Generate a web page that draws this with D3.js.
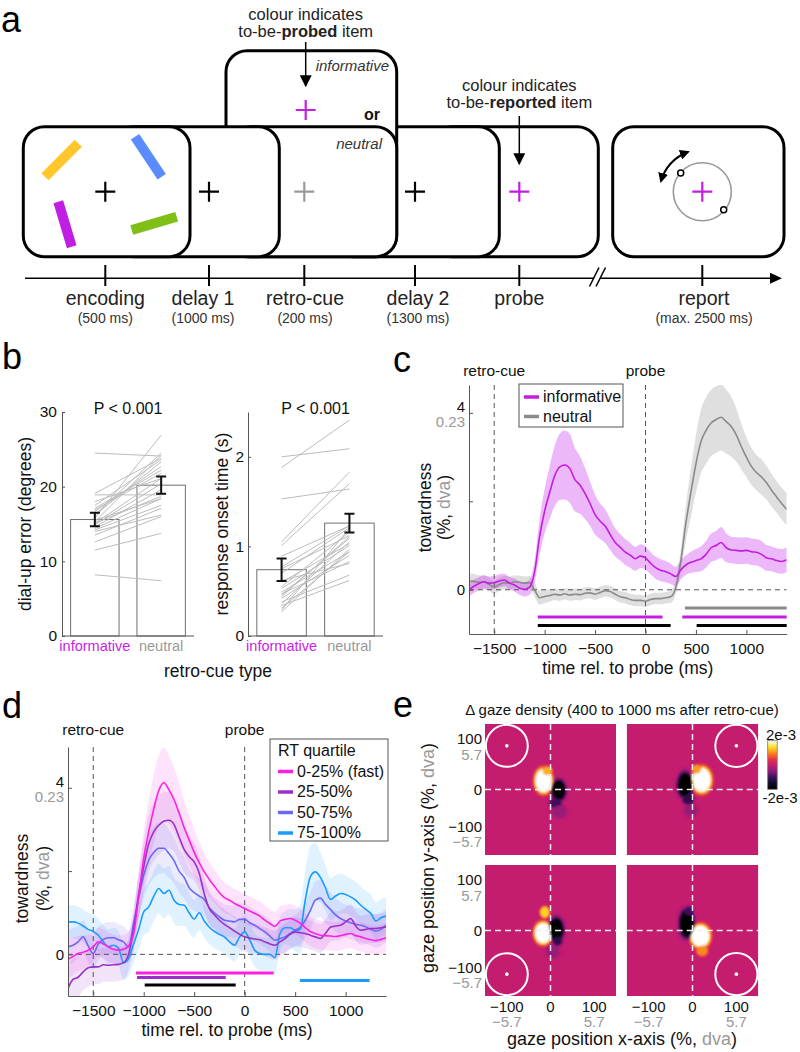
<!DOCTYPE html>
<html><head><meta charset="utf-8">
<script src="https://cdn.jsdelivr.net/npm/d3@7"></script>
<style>body{margin:0;background:#fff}</style>
</head><body>
<svg id="fig" width="800" height="1052" xmlns="http://www.w3.org/2000/svg"></svg>
<script>
// ======================= DATA =======================
// panel a
const trialStages = ["encoding","delay 1","retro-cue","delay 2","probe","report"];
const trialDurations = ["(500 ms)","(1000 ms)","(200 ms)","(1300 ms)","","(max. 2500 ms)"];

// panel b
const cueTypes = ["informative","neutral"];
const errorMean = [15.6, 20.2];
const errorSem = [0.9, 1.15];
const errorInformative = [24.5,8.2,11.5,12.6,13.5,14.4,15.1,15.3,15.8,16.2,16.7,17.1,17.5,18.0,18.9,19.1,14.9,14.6,14.0,16.2,16.9,15.5,14.2,15.1];
const errorNeutral     = [24.1,7.4,13.75,16.0,17.1,18.4,18.7,24.2,26.9,23.3,22.7,22.2,23.6,21.1,18.9,23.8,20.4,19.6,16.2,24.5,21.8,18.4,17.5,21.1];
const errorTicks = [0,10,20,30];
const rtMean = [0.74, 1.26];
const rtSem = [0.125, 0.105];
const rtInformative = [2.0,1.88,1.53,1.05,1.01,0.89,0.75,0.70,0.60,0.55,0.49,0.46,0.42,0.38,0.34,0.29,0.27,0.36,0.62,0.44,0.47,0.77,0.53,0.31];
const rtNeutral     = [2.09,2.41,1.64,1.83,1.70,1.23,1.12,1.21,1.03,1.16,0.94,1.09,0.90,0.68,0.62,1.20,0.97,1.05,0.81,1.11,0.83,1.23,1.01,0.94];
const rtTicks = [0,1,2];
const pText = "P < 0.001";

// panels c & d: time grid (ms rel. to probe, 50-ms steps)
const timeMs = d3.range(-1750, 1401, 50);
const timeTicks = [-1500,-1000,-500,0,500,1000];
const towardTicks = [0,2,4];
const towardTickLabels = [[0,"0"],[4,"4"]];
const towardDvaLabels = [[4,"0.23"]];
const eventTimes = [[-1500,"retro-cue"],[0,"probe"]];

const towardInformative = [0.0,0.08,0.14,0.18,0.15,0.16,0.2,0.22,0.15,0.11,0.04,0.01,0.06,
 0.4,1.2,1.78,2.2,2.58,2.78,2.82,2.74,2.49,2.37,2.18,
 1.95,1.7,1.55,1.44,1.25,1.07,0.96,0.85,0.78,0.7,0.76,
 0.72,0.6,0.5,0.44,0.41,0.36,0.3,0.45,0.56,0.62,0.66,
 0.7,0.8,0.95,1.0,1.07,0.95,0.9,0.89,0.88,0.89,0.86,
 0.85,0.8,0.72,0.7,0.66,0.64,0.68];
const towardInformativeSem = [0.15,0.15,0.15,0.15,0.15,0.15,0.15,0.14,0.14,0.15,0.15,0.16,0.17,
 0.25,0.4,0.5,0.6,0.68,0.75,0.78,0.78,0.72,0.65,0.58,
 0.5,0.45,0.4,0.38,0.35,0.32,0.3,0.29,0.28,0.27,0.27,
 0.26,0.25,0.25,0.25,0.24,0.23,0.22,0.22,0.22,0.24,0.26,
 0.28,0.3,0.32,0.33,0.35,0.33,0.3,0.3,0.3,0.3,0.3,
 0.3,0.3,0.29,0.28,0.28,0.28,0.28];
const towardNeutral = [0.2,0.19,0.17,0.17,0.12,0.06,0.12,0.16,0.15,0.18,0.17,0.15,0.16,
 0.0,-0.18,-0.15,-0.13,-0.1,-0.12,-0.09,-0.12,-0.1,-0.11,-0.08,
 -0.07,-0.1,-0.06,-0.02,-0.04,-0.1,-0.16,-0.18,-0.22,-0.24,-0.24,
 -0.26,-0.22,-0.2,-0.2,-0.18,-0.16,0.05,0.65,1.5,2.2,2.85,
 3.35,3.6,3.77,3.85,3.9,3.8,3.69,3.5,3.24,3.0,2.79,
 2.65,2.55,2.42,2.25,2.1,1.95,1.82];
const towardNeutralSem = [0.17,0.17,0.16,0.15,0.15,0.15,0.15,0.15,0.15,0.15,0.15,0.15,0.15,
 0.15,0.16,0.15,0.14,0.13,0.13,0.13,0.13,0.13,0.13,0.13,
 0.13,0.13,0.13,0.13,0.13,0.13,0.13,0.13,0.13,0.13,0.13,
 0.13,0.13,0.13,0.13,0.13,0.14,0.15,0.25,0.4,0.55,0.65,
 0.72,0.75,0.75,0.75,0.75,0.72,0.68,0.6,0.52,0.45,0.42,
 0.4,0.4,0.38,0.37,0.36,0.36,0.36];
// significant clusters (ms)
const sigNeutralC = [[391,1400]];
const sigInformativeC = [[-1068,169],[365,1400]];
const sigDifferenceC = [[-1068,249],[507,1400]];

// panel d: RT quartiles
const quartiles = ["0-25% (fast)","25-50%","50-75%","75-100%"];
const towardQ1 = [-0.12,-0.05,0.02,0.05,0.1,0.18,0.3,0.25,0.18,0.12,0.1,0.12,0.2,
 0.5,1.38,2.3,2.95,3.5,3.94,4.12,3.95,3.72,3.4,3.05,
 2.75,2.45,2.2,1.98,1.8,1.64,1.48,1.36,1.3,1.22,1.16,
 1.1,1.04,0.98,0.92,0.82,0.74,0.67,0.8,0.84,0.86,0.82,
 0.75,0.64,0.55,0.5,0.46,0.45,0.44,0.43,0.45,0.48,0.5,
 0.45,0.42,0.38,0.35,0.33,0.36,0.4];
const towardQ2 = [-0.82,-0.6,-0.55,-0.42,-0.32,-0.3,-0.3,-0.25,-0.26,-0.25,-0.24,-0.2,0.0,
 0.6,1.45,2.1,2.66,2.95,3.1,3.2,3.22,3.12,2.82,2.52,
 2.35,2.22,1.95,1.45,1.1,0.95,0.82,0.72,0.64,0.56,0.48,
 0.42,0.39,0.37,0.35,0.3,0.25,0.22,0.3,0.38,0.48,0.54,
 0.52,0.5,0.46,0.42,0.38,0.5,0.65,0.68,0.7,0.78,0.86,
 0.68,0.58,0.6,0.62,0.62,0.64,0.66];
const towardQ3 = [0.18,0.22,0.3,0.42,0.2,0.02,0.25,0.36,0.4,0.4,0.35,0.3,0.18,
 0.75,1.35,1.9,2.26,2.45,2.55,2.55,2.42,2.25,2.0,1.85,
 1.6,1.48,1.4,1.32,1.12,1.0,0.9,0.82,0.8,0.78,0.84,
 0.84,0.76,0.7,0.62,0.54,0.44,0.34,0.38,0.42,0.5,0.58,
 0.65,0.82,1.05,1.3,1.35,1.2,1.08,0.95,0.86,0.8,0.76,
 0.72,0.7,0.66,0.6,0.56,0.6,0.7];
const towardQ4 = [0.78,0.78,0.75,0.68,0.6,0.55,0.46,0.3,0.18,0.22,0.15,-0.2,-0.1,
 0.25,0.6,1.02,1.14,1.4,1.58,1.46,1.54,1.3,1.2,1.18,
 1.0,0.85,1.0,0.8,0.65,0.55,0.48,0.42,0.3,0.22,0.42,
 0.54,0.35,0.1,0.02,0.0,0.0,-0.08,0.5,0.64,0.64,0.58,
 0.6,1.3,1.86,1.98,1.85,1.6,1.32,1.4,1.46,1.44,1.38,
 1.3,1.18,1.08,0.98,0.8,0.88,0.92];
const semQ1 = [0.45,0.45,0.42,0.4,0.38,0.36,0.35,0.35,0.35,0.35,0.35,0.35,0.35,
 0.4,0.55,0.65,0.75,0.82,0.85,0.85,0.82,0.78,0.72,0.65,
 0.6,0.55,0.5,0.45,0.42,0.4,0.38,0.36,0.35,0.35,0.35,
 0.35,0.35,0.35,0.35,0.35,0.35,0.35,0.35,0.35,0.35,0.35,
 0.35,0.35,0.35,0.35,0.35,0.35,0.35,0.35,0.35,0.35,0.35,
 0.35,0.35,0.35,0.35,0.35,0.35,0.35];
const semQ2 = [0.5,0.5,0.48,0.45,0.45,0.42,0.42,0.4,0.4,0.4,0.4,0.4,0.4,
 0.45,0.55,0.62,0.68,0.7,0.7,0.7,0.68,0.65,0.6,0.55,
 0.5,0.45,0.42,0.4,0.38,0.36,0.35,0.35,0.35,0.35,0.35,
 0.35,0.35,0.35,0.35,0.35,0.35,0.35,0.35,0.35,0.35,0.35,
 0.35,0.35,0.35,0.35,0.35,0.35,0.35,0.35,0.35,0.35,0.35,
 0.35,0.35,0.35,0.35,0.35,0.35,0.35];
const semQ3 = [0.42,0.42,0.4,0.4,0.4,0.4,0.4,0.38,0.38,0.38,0.38,0.38,0.38,
 0.42,0.5,0.55,0.6,0.62,0.62,0.6,0.58,0.55,0.52,0.5,
 0.46,0.44,0.42,0.4,0.4,0.38,0.38,0.38,0.38,0.38,0.38,
 0.38,0.38,0.38,0.38,0.38,0.38,0.38,0.38,0.38,0.38,0.38,
 0.4,0.42,0.45,0.45,0.45,0.45,0.42,0.4,0.4,0.4,0.4,
 0.4,0.4,0.4,0.4,0.4,0.4,0.4];
const semQ4 = [0.4,0.4,0.4,0.4,0.4,0.4,0.4,0.4,0.42,0.42,0.42,0.42,0.42,
 0.45,0.5,0.55,0.6,0.6,0.6,0.6,0.58,0.55,0.52,0.5,
 0.48,0.45,0.42,0.4,0.4,0.4,0.4,0.4,0.4,0.4,0.4,
 0.4,0.4,0.4,0.4,0.4,0.4,0.4,0.4,0.4,0.45,0.5,
 0.6,0.7,0.75,0.7,0.6,0.55,0.5,0.5,0.48,0.45,0.45,
 0.45,0.45,0.45,0.45,0.45,0.45,0.45];
const sigQ1 = [[-1076,286]];
const sigQ2 = [[-1066,-188]];
const sigQ4 = [[546,1237]];
const sigQ1vsQ4 = [[-990,-89]];

// panel e: gaze density difference maps
const gazeCues = [[-100,100],[100,100],[-100,-100],[100,-100]];
const gazeTicks = [-100,0,100];
const gazeTickDva = [[-100,"\u22125.7"],[100,"5.7"]];
const densityLabels = ["2e-3","-2e-3"];
// [panel, x (%), y (%), x-radius (%), y-radius (%), relative density]
const gazeBlobs = [
 [0,-16,20,19,27,1],[0,-8,42,11,10,0.6],[0,19,-2,15,22,-1],[0,12,-32,13,12,-0.5],[0,20,-50,16,14,-0.2],
 [1,21,22,21,28,1],[1,10,46,10,10,0.55],[1,-17,10,16,27,-1],[1,-10,-22,12,12,-0.6],[1,-4,-48,14,14,-0.2],
 [2,-17,-6,19,24,1],[2,-13,42,10,12,0.7],[2,13,2,16,25,-1],[2,16,-24,10,10,-0.6],[2,6,-48,14,14,-0.2],
 [3,18,-13,21,25,1],[3,22,-46,12,12,0.5],[3,-13,16,16,30,-1],[3,-8,44,10,10,-0.5]
];

// ======================= DRAWING =======================
const FONT = "'Liberation Sans', Arial, sans-serif";
const NUM = d3.format("");
const svg = d3.select("#fig").attr("font-family", FONT);
const defs = svg.append("defs");
defs.append("marker").attr("id","arr").attr("viewBox","0 0 10 10").attr("refX",9).attr("refY",5)
  .attr("markerWidth",12).attr("markerHeight",12).attr("markerUnits","userSpaceOnUse").attr("orient","auto-start-reverse")
  .append("path").attr("d","M0,0 L10,5 L0,10 Z").attr("fill","#000");
defs.append("marker").attr("id","arrSmall").attr("viewBox","0 0 10 10").attr("refX",8).attr("refY",5)
  .attr("markerWidth",10).attr("markerHeight",10).attr("markerUnits","userSpaceOnUse").attr("orient","auto-start-reverse")
  .append("path").attr("d","M0,0 L10,5 L0,10 Z").attr("fill","#000");

function panelLetter(t,x,y){ svg.append("text").attr("x",x).attr("y",y).attr("font-size",36).attr("fill","#000").text(t); }
panelLetter("a",1,32); panelLetter("b",2,369); panelLetter("c",393,372); panelLetter("d",2,718); panelLetter("e",393,717);

// ---------------- panel a ----------------
const A = svg.append("g");
const MAG = "#c41fe0";
function plus(cx, cy, color){
  A.append("path").attr("d",`M${cx-10},${cy}H${cx+10}M${cx},${cy-10}V${cy+10}`).attr("stroke",color).attr("stroke-width",2.2).attr("fill","none");
}
function screen(x,y,w,h){
  A.append("rect").attr("x",x).attr("y",y).attr("width",w).attr("height",h).attr("rx",21)
   .attr("fill","#fff").attr("stroke","#000").attr("stroke-width",3);
}
const boxY = 126.7, boxH = 130, boxW = 166.7;
screen(612.7, boxY, 171.3, boxH);   // report
screen(431.6, boxY, boxW, boxH);    // probe
screen(332.6, boxY, boxW, boxH);    // delay 2
screen(226, 50.7, 170.7, 206);      // informative retro-cue
screen(230, boxY, boxW, boxH);      // neutral retro-cue
screen(112.6, boxY, boxW, boxH);    // delay 1
screen(23.3, boxY, boxW, boxH);     // encoding
const midY = 191.7;
[[45,176.7,78.3,143.3,"#ffc72c"],[135,136.7,161.7,176.7,"#5b8cff"],[58.3,201.7,71.7,246.7,"#c11ee3"],[131.7,230,176.7,216.7,"#7fbf18"]]
 .forEach(b=>A.append("line").attr("x1",b[0]).attr("y1",b[1]).attr("x2",b[2]).attr("y2",b[3]).attr("stroke",b[4]).attr("stroke-width",10));
plus(105.3,midY,"#000"); plus(209,midY,"#000"); plus(304.3,midY,"#999"); plus(415,midY,"#000"); plus(519.3,midY,MAG);
plus(305.7,110,MAG); plus(702.3,midY,MAG);
A.append("text").attr("x",389).attr("y",71).attr("text-anchor","end").attr("font-style","italic").attr("font-size",15).attr("fill","#333").text("informative");
A.append("text").attr("x",382).attr("y",149).attr("text-anchor","end").attr("font-style","italic").attr("font-size",15).attr("fill","#333").text("neutral");
A.append("text").attr("x",364).attr("y",120).attr("font-weight","bold").attr("font-size",16).attr("fill","#111").text("or");
function annot(cx, y1, word, ay0, ay1){
  A.append("text").attr("x",cx).attr("y",y1).attr("text-anchor","middle").attr("font-size",16.5).attr("fill","#222").text("colour indicates");
  const t = A.append("text").attr("x",cx).attr("y",y1+17).attr("text-anchor","middle").attr("font-size",16.5).attr("fill","#222");
  t.append("tspan").text("to-be-"); t.append("tspan").attr("font-weight","bold").text(word); t.append("tspan").text(" item");
  A.append("line").attr("x1",cx).attr("x2",cx).attr("y1",ay0).attr("y2",ay1).attr("stroke","#000").attr("stroke-width",1.5).attr("marker-end","url(#arr)");
}
annot(305.7, 20, "probed", 42, 86);
annot(519.3, 91, "reported", 116, 164);
A.append("circle").attr("cx",702.3).attr("cy",midY).attr("r",29).attr("fill","none").attr("stroke","#9a9a9a").attr("stroke-width",1.6);
[[680.7,173],[723.7,209.7]].forEach(p=>A.append("circle").attr("cx",p[0]).attr("cy",p[1]).attr("r",3).attr("fill","#fff").attr("stroke","#000").attr("stroke-width",1.5));
A.append("path").attr("d","M661,181 A43,43 0 0,1 688,152").attr("fill","none").attr("stroke","#000").attr("stroke-width",2)
  .attr("marker-start","url(#arrSmall)").attr("marker-end","url(#arrSmall)");
const tickX = [105.3,209,304.3,415,519.3,702.3];
const labelX = [105.3,203,305,418,519.3,704];
A.append("line").attr("x1",25).attr("x2",772).attr("y1",278.3).attr("y2",278.3).attr("stroke","#000").attr("stroke-width",1.5);
A.append("path").attr("d","M770,272.8 L782,278.3 L770,283.8 Z").attr("fill","#000");
A.append("path").attr("d","M590,287 L599,268 L605,268 L596,287 Z").attr("fill","#fff");
A.append("line").attr("x1",589.5).attr("y1",286.5).attr("x2",599).attr("y2",267.5).attr("stroke","#000").attr("stroke-width",1.5);
A.append("line").attr("x1",596).attr("y1",286.5).attr("x2",605.5).attr("y2",267.5).attr("stroke","#000").attr("stroke-width",1.5);
trialStages.forEach((s,i)=>{
  A.append("line").attr("x1",tickX[i]).attr("x2",tickX[i]).attr("y1",265).attr("y2",286).attr("stroke","#000").attr("stroke-width",2);
  A.append("text").attr("x",labelX[i]).attr("y",305).attr("text-anchor","middle").attr("font-size",19.5).attr("fill","#222").text(s);
  A.append("text").attr("x",labelX[i]).attr("y",323).attr("text-anchor","middle").attr("font-size",14).attr("fill","#333").text(trialDurations[i]);
});

// ---------------- panel b ----------------
const B_BOTTOM = 636, B_TOP = 412;
function styleAxis(g, fs){
  g.attr("font-family",FONT).attr("font-size",fs);
  g.select(".domain").attr("stroke","#555");
  g.selectAll(".tick line").attr("stroke","#555");
  g.selectAll(".tick text").attr("fill","#111");
}
function drawBars(p){
  const x = d3.scaleBand().domain(cueTypes).range([p.left,p.right]).paddingInner(0.27).paddingOuter(0.13);
  const y = d3.scaleLinear().domain([0,p.yMax]).range([B_BOTTOM,B_TOP]);
  const g = svg.append("g");
  const bw = x.bandwidth();
  g.selectAll("rect").data(cueTypes).join("rect")
   .attr("x",d=>x(d)).attr("y",(d,i)=>y(p.mean[i])).attr("width",bw).attr("height",(d,i)=>B_BOTTOM-y(p.mean[i]))
   .attr("fill","#fff").attr("stroke","#707070").attr("stroke-width",1);
  g.selectAll("line.subj").data(p.a).join("line").attr("class","subj")
   .attr("x1",x(cueTypes[0])+bw/2).attr("x2",x(cueTypes[1])+bw/2)
   .attr("y1",d=>y(d)).attr("y2",(d,i)=>y(p.b[i])).attr("stroke","#bcbcbc").attr("stroke-width",1);
  cueTypes.forEach((c,i)=>{
    const cx = x(c)+bw/2, lo = y(p.mean[i]-p.sem[i]), hi = y(p.mean[i]+p.sem[i]);
    g.append("path").attr("d",`M${cx},${lo}V${hi}M${cx-5},${lo}H${cx+5}M${cx-5},${hi}H${cx+5}`).attr("stroke","#111").attr("stroke-width",2).attr("fill","none");
    g.append("text").attr("x",cx).attr("y",651).attr("text-anchor","middle").attr("font-size",14.5)
     .attr("fill", i===0 ? "#c81ee6" : "#999").text(c);
  });
  const ay = g.append("g").attr("transform",`translate(${p.left},0)`)
   .call(d3.axisLeft(y).tickValues(p.ticks).tickFormat(NUM).tickSizeInner(-3).tickSizeOuter(0).tickPadding(p.pad));
  styleAxis(ay, 15.5);
  g.append("line").attr("x1",p.left).attr("x2",p.right).attr("y1",B_BOTTOM).attr("y2",B_BOTTOM).attr("stroke","#555");
  g.append("text").attr("x",(p.left+p.right)/2).attr("y",414).attr("text-anchor","middle").attr("font-size",16).attr("fill","#111").text(pText);
  g.append("text").attr("transform",`translate(${p.labelX},${(B_TOP+B_BOTTOM)/2}) rotate(-90)`).attr("text-anchor","middle")
   .attr("dominant-baseline","central").attr("font-size",17.5).attr("fill","#111").text(p.label);
}
drawBars({left:62,right:194,yMax:30,ticks:errorTicks,mean:errorMean,sem:errorSem,a:errorInformative,b:errorNeutral,pad:5,labelX:25,label:"dial-up error (degrees)"});
drawBars({left:248,right:383,yMax:2.5,ticks:rtTicks,mean:rtMean,sem:rtSem,a:rtInformative,b:rtNeutral,pad:4,labelX:222,label:"response onset time (s)"});
svg.append("text").attr("x",218).attr("y",677).attr("text-anchor","middle").attr("font-size",17.5).attr("fill","#111").text("retro-cue type");

// ---------------- panels c & d ----------------
function drawToward(p){
  const x = d3.scaleLinear().domain([-1750,1400]).range([p.left,p.right]);
  const y = d3.scaleLinear().domain([-1,p.yMax]).range([p.bottom,p.top]);
  const g = svg.append("g");
  defs.append("clipPath").attr("id",p.id).append("rect").attr("x",p.left).attr("y",p.top).attr("width",p.right-p.left).attr("height",p.bottom-p.top);
  const plot = g.append("g").attr("clip-path",`url(#${p.id})`);
  const pts = s => timeMs.map((t,i)=>({t, m:s.mean[i], e:s.sem[i]}));
  p.series.forEach(s=>{
    plot.append("path").datum(pts(s))
     .attr("d", d3.area().x(d=>x(d.t)).y0(d=>y(d.m-d.e)).y1(d=>y(d.m+d.e)).curve(d3.curveMonotoneX))
     .attr("fill", s.band).attr("fill-opacity", s.op);
  });
  plot.append("line").attr("x1",p.left).attr("x2",p.right).attr("y1",y(0)).attr("y2",y(0)).attr("stroke","#555").attr("stroke-dasharray","5,4").attr("stroke-width",1);
  eventTimes.forEach(([t,lab])=>{
    plot.append("line").attr("x1",x(t)).attr("x2",x(t)).attr("y1",p.top).attr("y2",p.bottom).attr("stroke","#555").attr("stroke-dasharray","5,4").attr("stroke-width",1);
    g.append("text").attr("x",x(t)).attr("y",p.top-p.evOff).attr("text-anchor","middle").attr("font-size",15.5).attr("fill","#111").text(lab);
  });
  p.series.forEach(s=>{
    plot.append("path").datum(pts(s)).attr("d", d3.line().x(d=>x(d.t)).y(d=>y(d.m)).curve(d3.curveMonotoneX))
     .attr("fill","none").attr("stroke",s.color).attr("stroke-width",1.6);
  });
  p.sig.forEach(r=> r.ranges.forEach(([a,b])=>{
    g.append("line").attr("x1",x(a)).attr("x2",x(Math.min(b,1400))).attr("y1",p.bottom-r.off).attr("y2",p.bottom-r.off)
     .attr("stroke",r.color).attr("stroke-width",r.w||2.8);
  }));
  const ax = g.append("g").attr("transform",`translate(0,${p.bottom})`)
    .call(d3.axisBottom(x).tickValues(timeTicks).tickFormat(NUM).tickSizeInner(-4).tickSizeOuter(0).tickPadding(9));
  styleAxis(ax, 15.5);
  const ay = g.append("g").attr("transform",`translate(${p.left},0)`)
    .call(d3.axisLeft(y).tickValues(towardTicks).tickFormat(()=>"").tickSizeInner(-4).tickSizeOuter(0));
  styleAxis(ay, 15);
  towardTickLabels.forEach(([v,lab])=> g.append("text").attr("x",p.left-4).attr("y",y(v)+(v===0?5.5:-1)).attr("text-anchor","end").attr("font-size",15).attr("fill","#111").text(lab));
  towardDvaLabels.forEach(([v,lab])=> g.append("text").attr("x",p.left-4).attr("y",y(v)+14.5).attr("text-anchor","end").attr("font-size",15).attr("fill","#999").text(lab));
  g.append("text").attr("x",(p.left+p.right)/2).attr("y",p.bottom+40).attr("text-anchor","middle").attr("font-size",17.5).attr("fill","#111").text("time rel. to probe (ms)");
  const cy = (p.top+p.bottom)/2 + p.labShift;
  g.append("text").attr("transform",`translate(${p.labX1},${cy}) rotate(-90)`).attr("text-anchor","middle").attr("dominant-baseline","central").attr("font-size",17.5).attr("fill","#111").text("towardness");
  const t2 = g.append("text").attr("transform",`translate(${p.labX2},${cy}) rotate(-90)`).attr("text-anchor","middle").attr("dominant-baseline","central").attr("font-size",17.5).attr("fill","#111");
  t2.append("tspan").text("(%, "); t2.append("tspan").attr("fill","#999").text("dva"); t2.append("tspan").text(")");
  const L = p.legend;
  g.append("rect").attr("x",L.x).attr("y",L.y).attr("width",L.w).attr("height",L.h).attr("fill","#fff").attr("stroke","#555").attr("stroke-width",1);
  let yy = L.y + L.first;
  if (L.title){ g.append("text").attr("x",L.x+8).attr("y",yy).attr("font-size",16).attr("fill","#111").text(L.title); yy += L.step; }
  L.items.forEach(it=>{
    g.append("line").attr("x1",L.x+L.lx).attr("x2",L.x+L.lx+15).attr("y1",yy-5).attr("y2",yy-5).attr("stroke",it.color).attr("stroke-width",3.5);
    g.append("text").attr("x",L.x+L.lx+19).attr("y",yy).attr("font-size",16).attr("fill","#111").text(it.label);
    yy += L.step;
  });
}
const cInf = {mean:towardInformative, sem:towardInformativeSem, color:"#c21ee0", band:"#cc33ee", op:0.35};
const cNeu = {mean:towardNeutral, sem:towardNeutralSem, color:"#8a8a8a", band:"#9a9a9a", op:0.32};
drawToward({id:"clipC", left:469, right:786.7, top:385, bottom:634, yMax:4.63, evOff:9, labX1:425, labX2:444, labShift:-2,
  series:[cNeu, cInf],
  sig:[{ranges:sigNeutralC,color:"#8a8a8a",off:26},{ranges:sigInformativeC,color:"#c21ee0",off:17},{ranges:sigDifferenceC,color:"#000",off:8.5}],
  legend:{x:519,y:384,w:104,h:43,first:18,step:19.5,lx:5,items:[{label:"informative",color:"#c21ee0"},{label:" neutral",color:"#8a8a8a"}]}
});
const qColors = ["#ff1fe0","#9a30c8","#6b68f5","#1a9bff"];
const qMeans = [towardQ1,towardQ2,towardQ3,towardQ4];
const qSems = [semQ1,semQ2,semQ3,semQ4];
const qSeries = [3,2,1,0].map(i=>({mean:qMeans[i], sem:qSems[i], color:qColors[i], band:qColors[i], op:0.13}));
drawToward({id:"clipD", left:68, right:386, top:747, bottom:996, yMax:4.98, evOff:12, labX1:22, labX2:43, labShift:7,
  series:qSeries,
  sig:[{ranges:sigQ1,color:qColors[0],off:23},{ranges:sigQ2,color:qColors[1],off:18.5},{ranges:sigQ4,color:qColors[3],off:15.5},{ranges:sigQ1vsQ4,color:"#000",off:11}],
  legend:{x:270,y:739,w:118,h:102,first:17,step:20.5,lx:8,title:"RT quartile",items:quartiles.map((q,i)=>({label:q,color:qColors[i]}))}
});

// ---------------- panel e ----------------
const dens = d3.scaleLinear().domain([-1,-0.75,-0.5,-0.25,0,0.25,0.5,0.75,1])
  .range(["#000000","#0d0b2c","#3d0f5e","#8c1a79","#c41c6f","#e8373f","#fb8b1b","#ffe22b","#ffffff"]).clamp(true);
defs.append("filter").attr("id","blur").attr("x","-20%").attr("y","-20%").attr("width","140%").attr("height","140%")
  .append("feGaussianBlur").attr("stdDeviation",1.1);
const colX = [[485,616],[626.7,758.3]], rowY = [[855,724],[996,865]];
const ringR = [1.4,1.2,1.07,0.95], ringV = [0.18,0.42,0.72,1];
gazeCues.forEach((cue,i)=>{
  const col = i%2, row = Math.floor(i/2);
  const x = d3.scaleLinear().domain([-150,150]).range(colX[col]);
  const y = d3.scaleLinear().domain([-150,150]).range(rowY[row]);
  const id = "clipE"+i;
  defs.append("clipPath").attr("id",id).append("rect").attr("x",colX[col][0]).attr("y",rowY[row][1]).attr("width",colX[col][1]-colX[col][0]).attr("height",rowY[row][0]-rowY[row][1]);
  const g = svg.append("g").attr("clip-path",`url(#${id})`);
  g.append("rect").attr("x",colX[col][0]).attr("y",rowY[row][1]).attr("width",colX[col][1]-colX[col][0]).attr("height",rowY[row][0]-rowY[row][1]).attr("fill",dens(0));
  const bg = g.append("g").attr("filter","url(#blur)");
  const blobs = gazeBlobs.filter(b=>b[0]===i);
  const k = x(1)-x(0);
  ringR.forEach((rm,li)=> blobs.forEach(b=>{
    bg.append("ellipse").attr("cx",x(b[1])).attr("cy",y(b[2])).attr("rx",b[3]*rm*k).attr("ry",b[4]*rm*k).attr("fill",dens(b[5]*ringV[li]));
  }));
  g.append("line").attr("x1",x(0)).attr("x2",x(0)).attr("y1",y(150)).attr("y2",y(-150)).attr("stroke","#eee").attr("stroke-width",1.5).attr("stroke-dasharray","6,4");
  g.append("line").attr("x1",x(-150)).attr("x2",x(150)).attr("y1",y(0)).attr("y2",y(0)).attr("stroke","#eee").attr("stroke-width",1.5).attr("stroke-dasharray","6,4");
  g.append("circle").attr("cx",x(cue[0])).attr("cy",y(cue[1])).attr("r",48*k).attr("fill","none").attr("stroke","#fff").attr("stroke-width",2);
  g.append("circle").attr("cx",x(cue[0])).attr("cy",y(cue[1])).attr("r",1.8).attr("fill","#fff");
  if (col===0){
    gazeTicks.forEach(v=>{
      svg.append("text").attr("x",482).attr("y",y(v)+(v===0?5.5:-1.5)).attr("text-anchor","end").attr("font-size",15).attr("fill","#111").text(NUM(v));
    });
    gazeTickDva.forEach(([v,lab])=> svg.append("text").attr("x",482).attr("y",y(v)+14).attr("text-anchor","end").attr("font-size",15).attr("fill","#999").text(lab));
  }
  if (row===1){
    gazeTicks.forEach(v=> svg.append("text").attr("x",x(v)).attr("y",1012).attr("text-anchor","middle").attr("font-size",15).attr("fill","#111").text(NUM(v)));
    gazeTickDva.forEach(([v,lab])=> svg.append("text").attr("x",x(v)).attr("y",1027).attr("text-anchor","middle").attr("font-size",15).attr("fill","#999").text(lab));
  }
});
svg.append("text").attr("x",622).attr("y",715).attr("text-anchor","middle").attr("font-size",15).attr("fill","#111").text("\u0394 gaze density (400 to 1000 ms after retro-cue)");
const ylab = svg.append("text").attr("transform","translate(428,858) rotate(-90)").attr("text-anchor","middle").attr("dominant-baseline","central").attr("font-size",18).attr("fill","#111");
ylab.append("tspan").text("gaze position y-axis (%, "); ylab.append("tspan").attr("fill","#999").text("dva"); ylab.append("tspan").text(")");
const xlab = svg.append("text").attr("x",622).attr("y",1045).attr("text-anchor","middle").attr("font-size",18).attr("fill","#111");
xlab.append("tspan").text("gaze position x-axis (%, "); xlab.append("tspan").attr("fill","#999").text("dva"); xlab.append("tspan").text(")");
const grad = defs.append("linearGradient").attr("id","cbar").attr("x1",0).attr("x2",0).attr("y1",1).attr("y2",0);
dens.domain().forEach(v=> grad.append("stop").attr("offset",(v+1)/2).attr("stop-color",dens(v)));
svg.append("rect").attr("x",767.7).attr("y",740.7).attr("width",9.5).attr("height",48.6).attr("fill","url(#cbar)").attr("stroke","#777").attr("stroke-width",0.8);
svg.append("text").attr("x",781).attr("y",740).attr("text-anchor","middle").attr("font-size",15).attr("fill","#111").text(densityLabels[0]);
svg.append("text").attr("x",780).attr("y",803).attr("text-anchor","middle").attr("font-size",15).attr("fill","#111").text(densityLabels[1]);
</script>
</body></html>
